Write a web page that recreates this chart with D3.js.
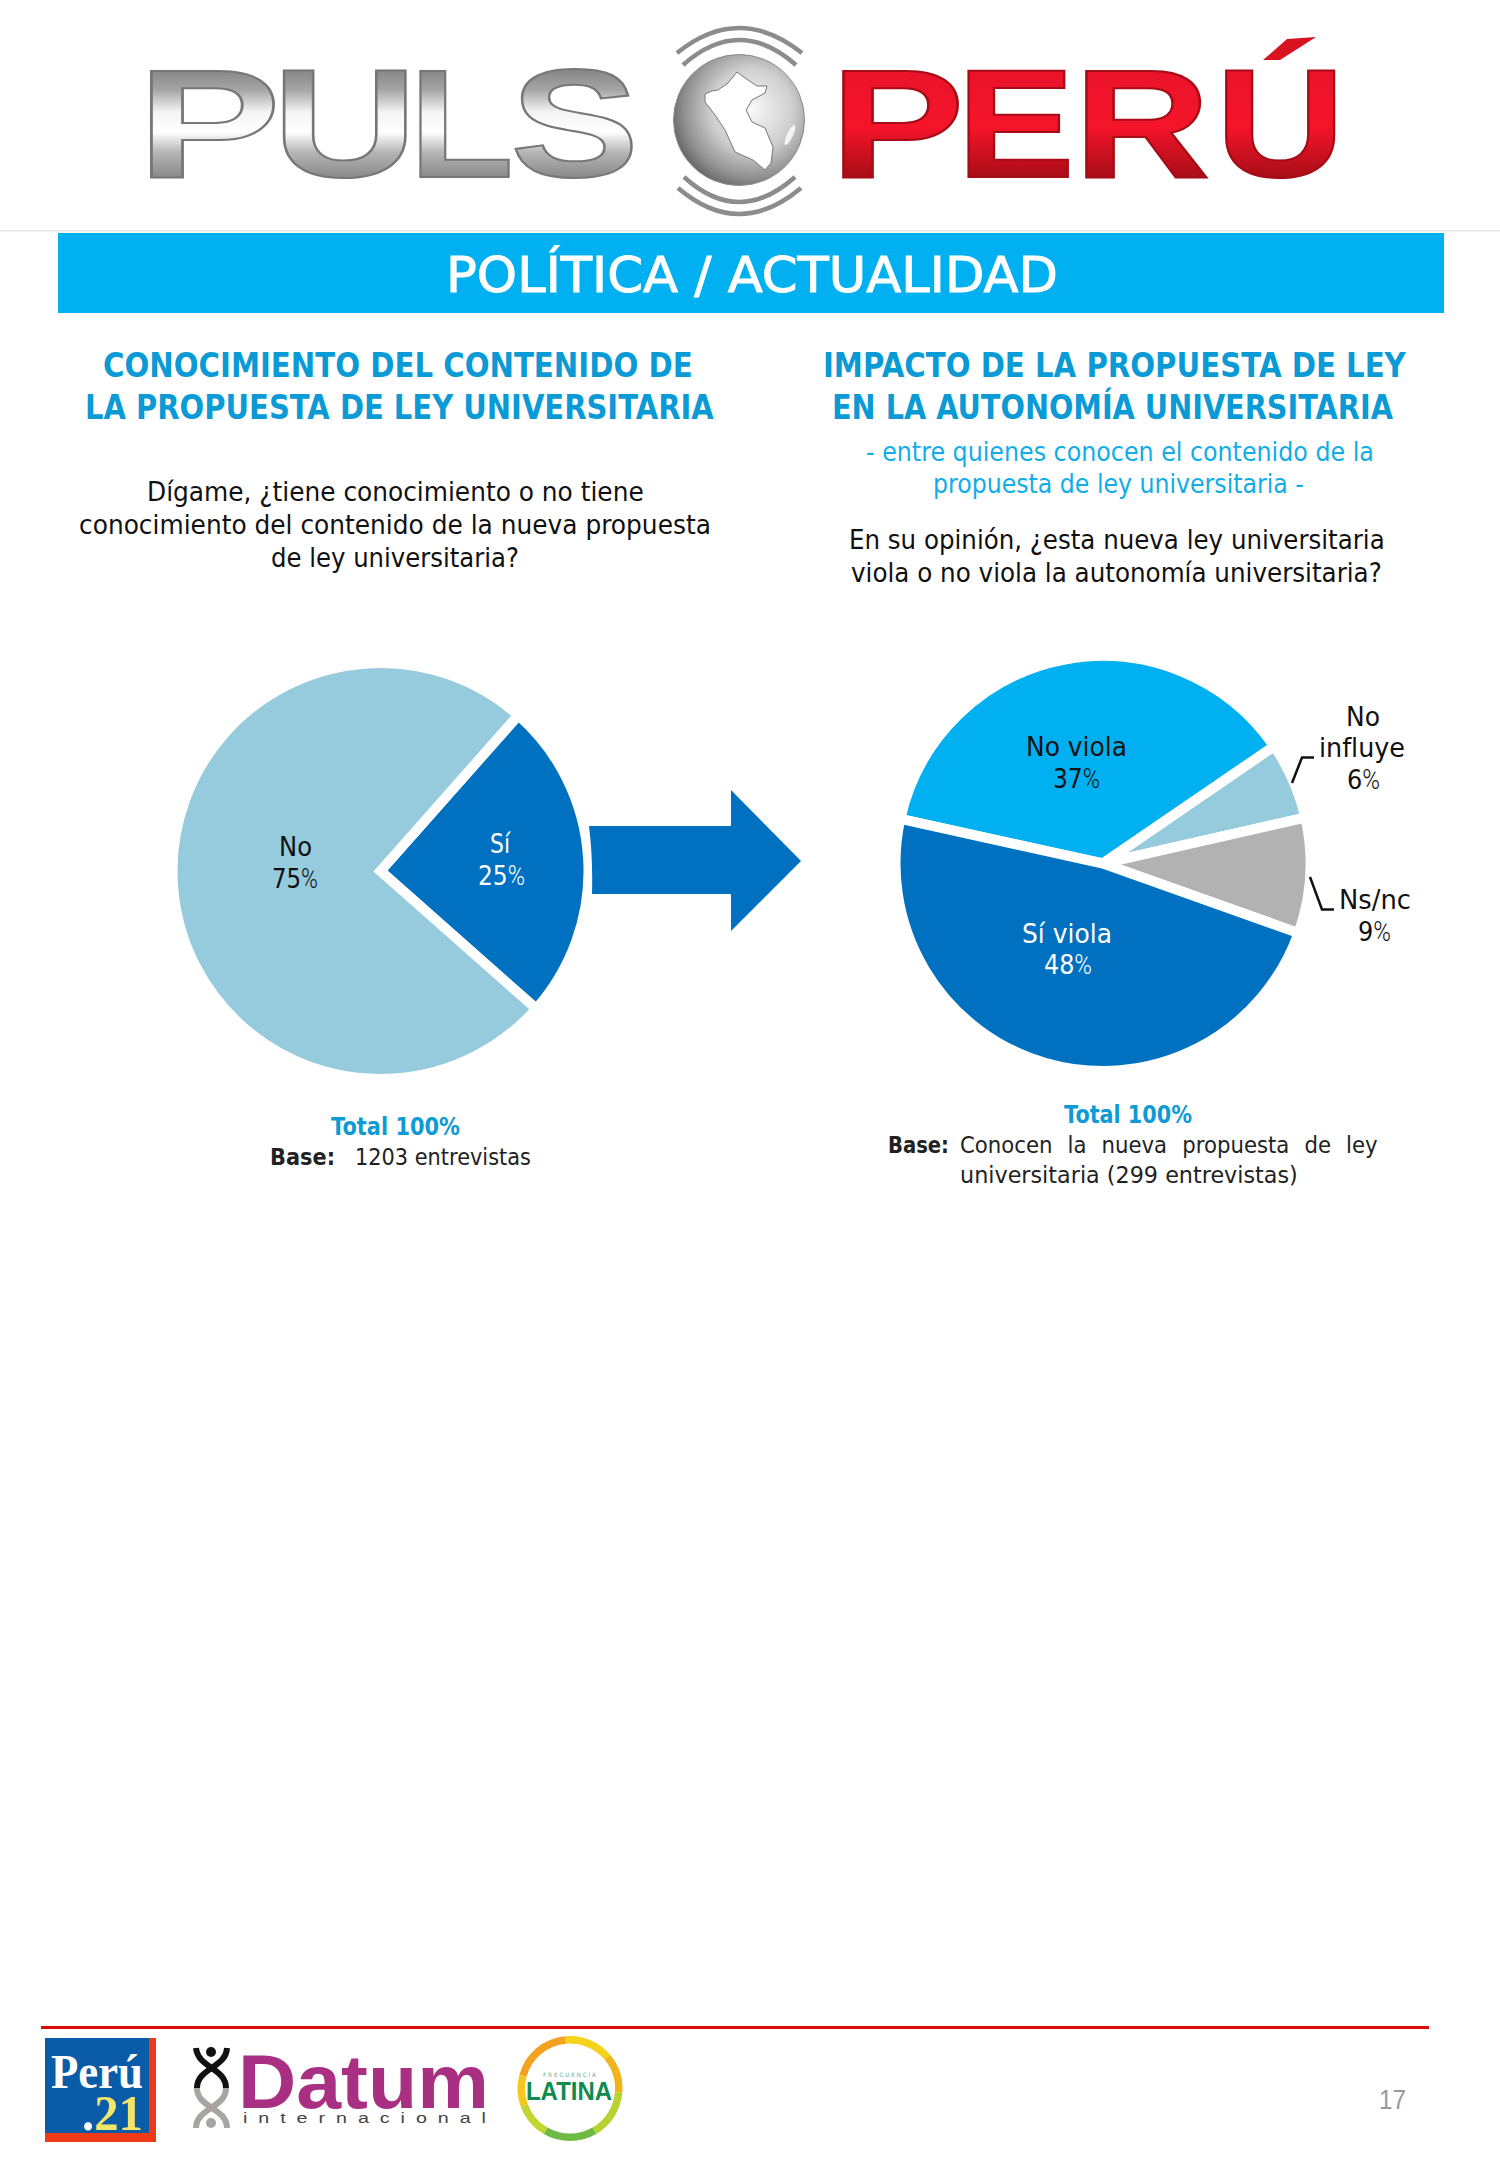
<!DOCTYPE html>
<html lang="es"><head><meta charset="utf-8">
<script src="https://cdn.jsdelivr.net/npm/d3@7"></script>
<style>html,body{margin:0;padding:0;background:#fff}svg{display:block}</style>
</head><body><svg id="c" width="1500" height="2167" viewBox="0 0 1500 2167"></svg>
<script>
// ---- data ----
const pie1Categories = ["Sí", "No"];
const pie1Values = [25, 75];
const pie2Categories = ["No viola", "No influye", "Ns/nc", "Sí viola"];
const pie2Values = [37, 6, 9, 48];
const sectionTitle = "POLÍTICA / ACTUALIDAD";
const leftHeading = ["CONOCIMIENTO DEL CONTENIDO DE", "LA PROPUESTA DE LEY UNIVERSITARIA"];
const rightHeading = ["IMPACTO DE LA PROPUESTA DE LEY", "EN LA AUTONOMÍA UNIVERSITARIA"];
const rightSub = ["- entre quienes conocen el contenido de la", "propuesta de ley universitaria -"];
const leftQuestion = ["Dígame, ¿tiene conocimiento o no tiene", "conocimiento del contenido de la nueva propuesta", "de ley universitaria?"];
const rightQuestion = ["En su opinión, ¿esta nueva ley universitaria", "viola o no viola la autonomía universitaria?"];

// ---- layout / style (separate from the data) ----
const FONT = "'DejaVu Sans', sans-serif";
const SANS = "'Liberation Sans',sans-serif";
const SERIF = "'Liberation Serif',serif";
const svg = d3.select("#c");
const defs = svg.append("defs");
const rad = d => d * Math.PI / 180;

function fit(sel, x0, x1, y, size, fill, parts, weight) {
  const g = sel.append("text").attr("font-family", FONT).attr("font-size", size)
    .attr("fill", fill).attr("font-weight", weight || 400);
  (typeof parts === "string" ? [{t: parts}] : parts).forEach(p => {
    const s = g.append("tspan").style("white-space", "pre").text(p.t);
    if (p.w) s.attr("font-weight", p.w);
    if (p.f) s.attr("fill", p.f);
    if (p.ff) s.attr("font-family", p.ff);
  });
  const w = g.node().getComputedTextLength();
  g.attr("transform", `translate(${x0},${y}) scale(${(x1 - x0) / w},1)`);
  return g;
}

// header rule and band
svg.append("rect").attr("x", 0).attr("y", 230).attr("width", 1500).attr("height", 1.5).attr("fill", "#e4e4e4");
svg.append("rect").attr("x", 58).attr("y", 233).attr("width", 1386).attr("height", 80).attr("fill", "#00B0F0");
fit(svg, 446, 1058, 292, 50, "#fff", sectionTitle).attr("stroke", "#fff").attr("stroke-width", 1);

const HEAD = "#0A9AD6", SUB = "#10ADE8";
[[103,693,377],[85,714,419]].forEach((p,i)=>fit(svg,p[0],p[1],p[2],34,HEAD,leftHeading[i],700));
[[823,1406,377],[832,1393,419]].forEach((p,i)=>fit(svg,p[0],p[1],p[2],34,HEAD,rightHeading[i],700));
[[866,1374,461],[933,1304,493]].forEach((p,i)=>fit(svg,p[0],p[1],p[2],26,SUB,rightSub[i]));
[[147,644,501],[79,711,534],[271,519,567]].forEach((p,i)=>fit(svg,p[0],p[1],p[2],26,"#111",leftQuestion[i]));
[[849,1385,549],[851,1382,582]].forEach((p,i)=>fit(svg,p[0],p[1],p[2],26,"#111",rightQuestion[i]));

// pies
const GAP = 10;
function drawPie(cx, cy, r, startDeg, cats, vals, colors) {
  const pie = d3.pie().sort(null).startAngle(rad(startDeg)).endAngle(rad(startDeg + 360));
  const arc = d3.arc().innerRadius(0).outerRadius(r + GAP / 2);
  svg.append("g").attr("transform", `translate(${cx},${cy})`)
    .selectAll("path").data(pie(vals)).join("path")
    .attr("d", arc).attr("fill", (d, i) => colors(cats[i]))
    .attr("stroke", "#fff").attr("stroke-width", GAP).attr("stroke-linejoin", "miter");
}
const color1 = d3.scaleOrdinal(pie1Categories, ["#0070C0", "#95CBDD"]);
const color2 = d3.scaleOrdinal(pie2Categories, ["#00B0F0", "#95CBDD", "#B2B2B2", "#0070C0"]);
drawPie(380.5, 871, 203, 41.5, pie1Categories, pie1Values, color1);
drawPie(1103, 863.5, 202.5, -77.6, pie2Categories, pie2Values, color2);

// percent labels: figure regular, % sign thin
const pct = v => [{t: String(v)}, {t: "%", ff: "Roboto, sans-serif", w: 300}];
function label(lines, fill) {
  lines.forEach(l => fit(svg, l[0], l[1], l[2], 27, fill, l[3]));
}
label([[279,312,856,pie1Categories[1]],[272,318,888,pct(pie1Values[1])]], "#111");
label([[490,510,853,pie1Categories[0]],[478,525,885,pct(pie1Values[0])]], "#fff");
label([[1026,1127,756,pie2Categories[0]],[1053,1100,788,pct(pie2Values[0])]], "#111");
label([[1022,1112,943,pie2Categories[3]],[1044,1092,974,pct(pie2Values[3])]], "#fff");
label([[1346,1380,726,"No"],[1319,1405,757,"influye"],[1347,1380,789,pct(pie2Values[1])]], "#111");
label([[1339,1411,909,pie2Categories[2]],[1358,1391,941,pct(pie2Values[2])]], "#111");

// leader lines
const line = d3.line();
[[[1314,757.5],[1302,757.5],[1292,783]],[[1310,877],[1322,909.5],[1334,909.5]]].forEach(p =>
  svg.append("path").attr("d", line(p)).attr("fill", "none").attr("stroke", "#111").attr("stroke-width", 2.5));

// arrow
svg.append("path").attr("fill", "#0070C0")
  .attr("d", "M589,826 L731,826 L731,790 L801,861 L731,931 L731,894 L592,894 Q593,858 589,826 Z");

// base notes
fit(svg, 331, 460, 1135, 24, "#0E9BD4", "Total 100%", 700);
fit(svg, 270, 531, 1165, 23, "#222", [{t: "Base:", w: 700}, {t: "   1203 entrevistas"}]);
fit(svg, 1064, 1192, 1123, 24, "#0E9BD4", "Total 100%", 700);
fit(svg, 888, 949, 1153, 23, "#222", [{t: "Base:", w: 700}]);
fit(svg, 960, 1378, 1153, 23, "#222", "Conocen la nueva propuesta de ley").attr("word-spacing", 9);
// refit justified line after word spacing
(function () {
  const t = svg.selectAll("text").filter(function () { return this.textContent.startsWith("Conocen"); });
  t.attr("transform", null);
  const w = t.node().getComputedTextLength();
  t.attr("transform", `translate(960,1153) scale(${418 / w},1)`);
})();
fit(svg, 960, 1298, 1183, 23, "#222", "universitaria (299 entrevistas)");

// ---- header logo ----
// gradients run in each letter's own coordinates, where the baseline is y = 0
const silver = defs.append("linearGradient").attr("id","silver").attr("gradientUnits","userSpaceOnUse")
  .attr("x1",0).attr("y1",-112).attr("x2",0).attr("y2",0);
[[0,"#7f7f7f"],[.22,"#a5a5a5"],[.42,"#f4f4f4"],[.6,"#ffffff"],[.78,"#b5b5b5"],[1,"#8a8a8a"]]
  .forEach(s=>silver.append("stop").attr("offset",s[0]).attr("stop-color",s[1]));
const red = defs.append("linearGradient").attr("id","red").attr("gradientUnits","userSpaceOnUse")
  .attr("x1",0).attr("y1",-112).attr("x2",0).attr("y2",0);
[[0,"#e8132a"],[.55,"#f5142a"],[1,"#a90d18"]].forEach(s=>red.append("stop").attr("offset",s[0]).attr("stop-color",s[1]));
const globe = defs.append("radialGradient").attr("id","globe").attr("cx",.6).attr("cy",.42).attr("r",.62);
[[0,"#f8f8f8"],[.5,"#cfcfcf"],[.85,"#8e8e8e"],[1,"#6a6a6a"]].forEach(s=>globe.append("stop").attr("offset",s[0]).attr("stop-color",s[1]));

// letter, ink left, ink right, left bearing (em), ink width (em)
const LOGO_SIZE = 154;
function logoLetter(t, x0, x1, lsb, ink, fill, stroke) {
  const sx = (x1 - x0) / (ink * LOGO_SIZE);
  svg.append("text").attr("font-family", SANS).attr("font-weight", 700).attr("font-size", LOGO_SIZE)
    .attr("fill", fill).attr("stroke", stroke).attr("stroke-width", 2)
    .attr("transform", `translate(${x0 - lsb * LOGO_SIZE * sx},177) scale(${sx},1)`).text(t);
}
[["P",152,275,.07,.57],["U",286,403,.07,.58],["L",421,512,.07,.53],["S",518,632,.04,.59]]
  .forEach(l=>logoLetter(l[0],l[1],l[2],l[3],l[4],"url(#silver)","#777"));
[["P",844,959,.07,.57],["E",969,1068,.07,.56],["R",1087,1208,.07,.64],["U",1228,1332,.07,.58]]
  .forEach(l=>logoLetter(l[0],l[1],l[2],l[3],l[4],"url(#red)","#a50c16"));
svg.append("path").attr("d","M1287,39 L1316,37 L1280,60 L1263,60 Z").attr("fill","#d8121f");

svg.append("circle").attr("cx",739).attr("cy",120).attr("r",65.5).attr("fill","url(#globe)").attr("stroke","#8a8a8a");
svg.append("path").attr("fill","#ffffff").attr("stroke","#777").attr("stroke-width",1)
  .attr("d","M737,72 L745,78 L757,86 L767,86 L765,93 L752,100 L746,110 L752,122 L765,128 L773,147 L771,163 L765,170 L753,160 L735,152 L725,130 L715,115 L705,102 L705,94 L712,91 L718,90 L728,83 Z");
svg.append("ellipse").attr("cx",790).attr("cy",135).attr("rx",3).attr("ry",11).attr("transform","rotate(25 790 135)").attr("fill","#fff").attr("opacity",.8);
["M677,53 Q739,3 802,53","M683,65 Q739,15 796,65","M684,177 Q739,227 795,177","M678,188 Q739,240 801,188"]
  .forEach(d=>svg.append("path").attr("d",d).attr("fill","none").attr("stroke","#8c8c8c").attr("stroke-width",4.5));

// ---- footer ----
svg.append("rect").attr("x",41).attr("y",2026).attr("width",1388).attr("height",3).attr("fill","#DE0A0A");
svg.append("rect").attr("x",45).attr("y",2038).attr("width",111).attr("height",104).attr("fill","#F03A17");
svg.append("rect").attr("x",45).attr("y",2038).attr("width",104).attr("height",95).attr("fill","#0A5CA8");
fit(svg,51,143,2088,48,"#fff",[{t:"Perú",ff:SERIF,w:700}]);
fit(svg,82,143,2130,50,"#F3E46A",[{t:".",ff:SERIF,w:700,f:"#fff"},{t:"21",ff:SERIF,w:700}]);

// Datum figure
[["M196,2048 C198,2068 226,2068 226,2088","#111"],["M227,2048 C226,2068 197,2068 197,2088","#111"],
 ["M197,2088 C197,2108 227,2108 227,2128","#a8a4a2"],["M226,2088 C226,2108 196,2108 196,2128","#a8a4a2"]]
 .forEach(a=>svg.append("path").attr("d",a[0]).attr("fill","none").attr("stroke",a[1]).attr("stroke-width",6));
svg.append("circle").attr("cx",211).attr("cy",2052).attr("r",5).attr("fill","#111");
svg.append("circle").attr("cx",211).attr("cy",2123).attr("r",5).attr("fill","#a8a4a2");
fit(svg,238,489,2108,76,"#A92F82",[{t:"Datum",ff:SANS,w:700}]);
fit(svg,243,486,2123,15,"#444",[{t:"i  n  t  e  r  n  a  c  i  o  n  a  l",ff:SANS}]);

// Latina ring
const ringArc = d3.arc().innerRadius(45).outerRadius(52.5);
[[-75,-5,"#F2A21E"],[-5,50,"#F5D31B"],[50,95,"#F0B51E"],[95,150,"#B9D232"],[150,210,"#6DBB45"],[210,250,"#C3D52F"],[250,285,"#F5C81E"]]
  .forEach(s=>svg.append("path").attr("transform","translate(570,2088.5)")
    .attr("d",ringArc({startAngle:rad(s[0]),endAngle:rad(s[1])})).attr("fill",s[2]));
fit(svg,543,596,2077,6,"#5FAF85","F R E C U E N C I A");
fit(svg,526,612,2100,25,"#0E8C50",[{t:"LATINA",ff:SANS,w:700}]);

fit(svg,1379,1406,2109,27,"#9a9a9a",[{t:"17",ff:SANS}]);
</script></body></html>
